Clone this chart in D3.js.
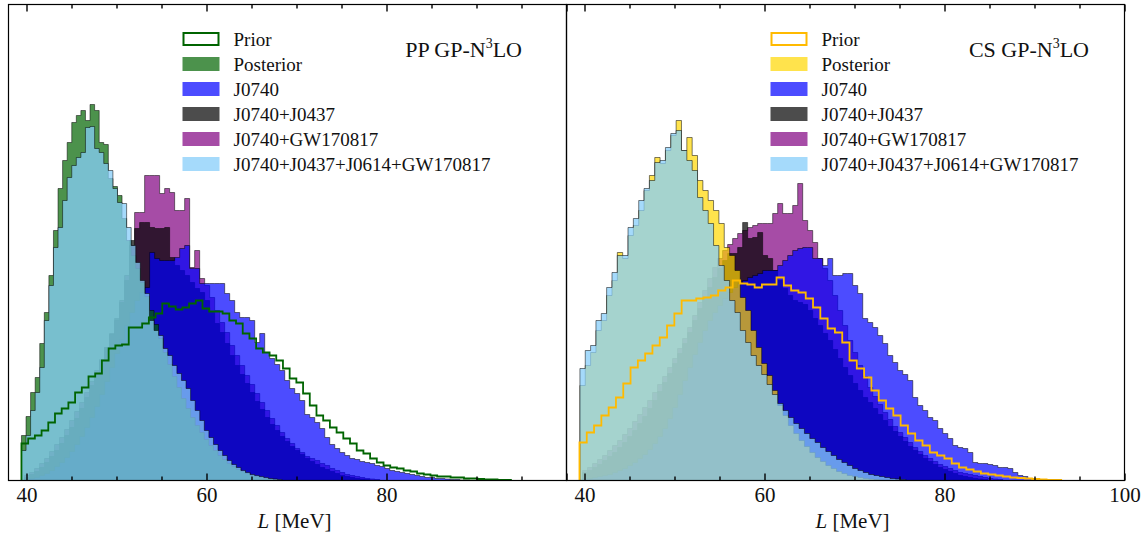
<!DOCTYPE html>
<html>
<head>
<meta charset="utf-8">
<script src="https://cdn.jsdelivr.net/npm/d3@7"></script>
<style>
  body { margin: 0; background: #fff; }
  svg text { font-family: "Liberation Serif", "DejaVu Serif", serif; fill: #111; }
</style>
</head>
<body>
<svg id="chart" width="1148" height="536"></svg>
<script>
// ---- data: histogram counts of L [MeV] ----
const seriesNames = ["Prior", "Posterior", "J0740", "J0740+J0437", "J0740+GW170817", "J0740+J0437+J0614+GW170817"];

// first bin edge and bin width (MeV) per series, same order as seriesNames
const ppStarts = [39.44, 39.44, 39.78, 39.78, 39.78, 39.44];
const ppWidths = [0.745, 0.508, 0.556, 0.556, 0.556, 0.508];
const csStarts = [39.44, 39.49, 39.78, 39.78, 39.78, 39.49];
const csWidths = [0.811, 0.594, 0.556, 0.556, 0.556, 0.594];

// PP GP-N3LO
const ppPrior = [37,42,45,50,58,67,72,78,88,93,104,107,120,132,135,136,153,153,157,163,167,177,174,171,173,177,180,172,169,169,167,160,157,147,142,132,128,125,120,112,102,98,87,75,65,60,53,48,42,37,30,27,22,18,15,13,12,10,9,7,6,5,4,4,3,3,2,2,1.5,1,1,0.5,0.5];
const ppPosterior = [45,64,88,103,137,168,205,250,292,320,338,358,365,370,360,376,370,338,336,302,294,285,262,240,225,212,198,184,170,156,142,128,116,104,93,82,72,63,55,48,41,35,30,25,21,17,14,11,9,7,5,4,3,2,1.5,1];
const ppJ0740 = [1,2,3,5,7,10,14,18,23,29,36,44,53,63,74,86,99,113,127,141,155,168,180,188,193,228,222,220,220,220,223,232,235,212,212,197,197,197,197,197,187,180,168,163,163,160,138,147,128,122,116,110,100,92,87,80,66,63,58,52,43,36,32,28,25,22,21,19,18,17,15,14,12,10,9,8,7,6,5,4,3,3,2,2,1.5,1,1,0.5,0.5];
const ppJ0740J0437 = [3,6,9,13,18,24,30,37,45,53,62,72,83,95,107,120,133,147,162,178,200,240,252,258,258,253,252,252,253,223,215,210,205,198,192,188,180,168,157,148,137,125,115,106,97,88,79,71,63,56,50,44,39,34,30,26,22,19,16,13,11,9,7,5,4,3,2,1.5,1];
const ppJ0740GW = [5,8,12,17,22,29,36,43,51,60,69,78,88,99,110,121,133,146,160,180,205,235,268,268,305,305,305,287,292,288,270,270,282,213,230,202,195,183,170,158,148,135,125,115,105,96,87,78,70,62,55,48,42,37,32,28,24,22,20,17,15,12,10,8,6,5,4,3,2,1.5,1];
const ppCombined = [30,45,70,88,113,160,195,233,253,280,303,315,323,328,353,354,332,328,317,310,292,278,277,253,235,218,200,187,160,150,145,132,125,115,107,100,92,80,70,60,50,43,36,30,25,20,16,13,10,8,6,5,4,3,2,1.5,1];

// CS GP-N3LO
const csPrior = [38,48,55,65,73,83,97,113,120,127,135,143,155,167,180,180,182,183,185,190,193,200,197,196,193,196,196,203,195,190,188,182,173,162,152,148,138,120,112,103,90,80,72,65,55,47,40,35,28,25,22,17,13,11,9,7,6,5,4,3,2.5,2,1.5,1,0.5,0.5];
const csPosterior = [95,115,128,150,160,185,200,228,222,245,255,270,290,305,323,317,330,345,360,330,343,325,300,290,280,270,257,233,225,210,183,170,150,133,117,105,90,75,65,55,47,40,34,28,23,19,15,12,9,7,5,4,3,2,1.5,1];
const csJ0740 = [2,2,3,4,5,6,8,10,12,15,18,22,26,31,37,44,52,62,73,86,100,113,126,138,150,160,168,175,182,188,193,197,200,203,205,207,210,210,210,215,220,225,230,232,233,233,222,222,215,222,205,205,207,207,195,187,162,158,153,145,137,125,118,110,106,100,83,75,70,63,60,52,47,42,35,33,32,28,18,17,17,16,15,13,13,12,8,5,4,2,1.5,1,0.5];
const csJ0740J0437 = [8,10,13,16,20,24,28,33,38,44,50,57,64,72,80,89,98,107,117,127,137,148,160,172,183,193,203,212,220,227,227,233,258,242,243,248,225,222,210,200,192,185,180,178,176,170,162,155,147,140,131,122,113,105,97,90,83,78,72,66,60,54,49,44,39,34,30,26,22,19,16,13,11,9,7,5,4,3,2,1.5,1];
const csJ0740GW = [10,13,17,21,25,30,35,40,46,52,59,66,73,80,88,96,104,113,122,132,142,153,165,178,190,202,213,222,230,236,242,247,250,253,255,257,257,257,267,277,267,267,275,297,260,250,238,222,212,200,185,170,155,140,128,115,104,93,84,76,68,61,54,48,43,38,33,29,25,22,19,16,14,12,10,8,7,6,5,4,3,2,1.5,1];
const csCombined = [112,130,135,160,167,193,208,225,225,253,262,280,292,300,318,320,333,347,350,330,320,310,283,270,257,235,215,200,180,168,150,138,125,115,106,96,86,77,70,63,57,52,47,42,38,33,29,25,21,18,15,12,10,8,6,5,4,3,2,1.5,1];

const majorTicks = [40, 60, 80, 100];
const minorTicks = [45, 50, 55, 65, 70, 75, 85, 90, 95];

// ---- layout ----
const svg = d3.select("#chart");
const panelWidth = 558;
const panelHeight = 476;
const topOffset = 4.5;

const panels = [
  {
    id: "pp", left: 8.5, titleMain: "PP GP-N", titleRight: 513.5,
    legendX: 174, labels: [40, 60, 80],
    colors: ["#006400", "#006400", "#0000ff", "#000000", "#800080", "#87cefa"],
    counts: [ppPrior, ppPosterior, ppJ0740, ppJ0740J0437, ppJ0740GW, ppCombined],
    starts: ppStarts, widths: ppWidths
  },
  {
    id: "cs", left: 566.5, titleMain: "CS GP-N", titleRight: 522.5,
    legendX: 204, labels: [40, 60, 80, 100],
    colors: ["#ffba00", "#ffd700", "#0000ff", "#000000", "#800080", "#87cefa"],
    counts: [csPrior, csPosterior, csJ0740, csJ0740J0437, csJ0740GW, csCombined],
    starts: csStarts, widths: csWidths
  }
];

// draw order of the filled histograms (index into seriesNames)
const fillOrder = [4, 3, 2, 1, 5];
const fillAlpha = [1, 0.7, 0.7, 0.7, 0.7, 0.75];

const x = d3.scaleLinear().domain([38, 100]).range([0, panelWidth]);
const y = d3.scaleLinear().domain([0, panelHeight]).range([panelHeight, 0]);

function stepPoints(start, width, counts) {
  const pts = [[start, 0]];
  counts.forEach((c, i) => {
    pts.push([start + i * width, c]);
    pts.push([start + (i + 1) * width, c]);
  });
  pts.push([start + counts.length * width, 0]);
  return pts;
}
const line = d3.line().x(d => x(d[0])).y(d => y(d[1]));

panels.forEach(p => {
  const g = svg.append("g").attr("transform", `translate(${p.left},${topOffset})`);

  g.append("clipPath").attr("id", `clip-${p.id}`)
    .append("rect").attr("width", panelWidth).attr("height", panelHeight);

  const plot = g.append("g").attr("clip-path", `url(#clip-${p.id})`);

  // filled histograms
  fillOrder.forEach(k => {
    plot.append("path")
      .attr("d", line(stepPoints(p.starts[k], p.widths[k], p.counts[k])) + "Z")
      .attr("fill", p.colors[k])
      .attr("fill-opacity", fillAlpha[k])
      .attr("stroke", "#000")
      .attr("stroke-opacity", 0.5)
      .attr("stroke-width", 1);
  });

  // prior as step outline
  plot.append("path")
    .attr("d", line(stepPoints(p.starts[0], p.widths[0], p.counts[0])))
    .attr("fill", "none")
    .attr("stroke", p.colors[0])
    .attr("stroke-width", 1.8);

  // frame
  g.append("rect")
    .attr("width", panelWidth).attr("height", panelHeight)
    .attr("fill", "none").attr("stroke", "#000").attr("stroke-width", 1.2);

  // ticks, inward on top and bottom
  const addTicks = (vals, len, showLabels) => {
    const bottom = d3.axisBottom(x).tickValues(vals).tickSize(-len).tickPadding(7)
      .tickFormat(d => showLabels && p.labels.includes(d) ? d : "");
    const ga = g.append("g").attr("transform", `translate(0,${panelHeight})`).call(bottom);
    const topAxis = d3.axisTop(x).tickValues(vals).tickSize(-len).tickFormat("");
    const gt = g.append("g").call(topAxis);
    [ga, gt].forEach(s => {
      s.select(".domain").remove();
      s.selectAll("line").attr("stroke", "#000").attr("stroke-width", 1.4);
      s.selectAll("text").style("font-size", "21px").attr("fill", "#111")
        .style("font-family", '"Liberation Serif", serif');
    });
  };
  addTicks(majorTicks, 7, true);
  addTicks(minorTicks, 4, false);

  // x label
  const xl = g.append("text")
    .attr("x", panelWidth / 2 + 7).attr("y", 528 - topOffset)
    .attr("text-anchor", "middle").style("font-size", "21px");
  xl.append("tspan").style("font-style", "italic").text("L");
  xl.append("tspan").text(" [MeV]");

  // panel title with superscript
  const t = g.append("text")
    .attr("x", p.titleRight).attr("y", 57 - topOffset)
    .attr("text-anchor", "end").style("font-size", "22px");
  t.append("tspan").text(p.titleMain);
  t.append("tspan").attr("dy", -9).style("font-size", "14px").text("3");
  t.append("tspan").attr("dy", 9).text("LO");

  // legend
  const legend = g.append("g").attr("transform", `translate(${p.legendX},${32 - topOffset})`);
  seriesNames.forEach((name, i) => {
    const row = legend.append("g").attr("transform", `translate(0,${i * 25})`);
    if (i === 0) {
      row.append("rect").attr("x", 1).attr("y", 1).attr("width", 35).attr("height", 12)
        .attr("fill", "#fff").attr("stroke", p.colors[0]).attr("stroke-width", 2);
    } else {
      row.append("rect").attr("width", 37).attr("height", 14)
        .attr("fill", p.colors[i]).attr("fill-opacity", fillAlpha[i]);
    }
    row.append("text").attr("x", 51).attr("y", 13.5)
      .style("font-size", "19px").text(name);
  });
});
</script>
</body>
</html>
